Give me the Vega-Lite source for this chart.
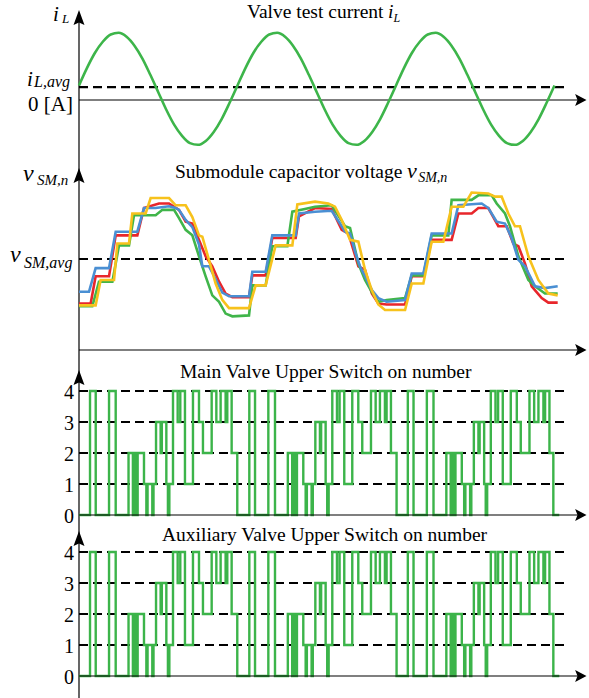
{
"$schema":"https://vega.github.io/schema/vega-lite/v6.json",
"padding":0,
"spacing":0,
"bounds":"flush",
"config":{"view":{"stroke":null},"axis":{"disable":true},"legend":{"disable":true}},
"datasets":{
"current":[
{"t":0,"i":0.26},{"t":1,"i":0.57},{"t":2,"i":0.84},{"t":3,"i":1.04},{"t":4,"i":1.17},{"t":5,"i":1.2},{"t":6,"i":1.13},{"t":7,"i":0.97},{"t":8,"i":0.74},{"t":9,"i":0.45},{"t":10,"i":0.14},{"t":11,"i":-0.17},{"t":12,"i":-0.44},{"t":13,"i":-0.64},{"t":14,"i":-0.77},{"t":15,"i":-0.8},{"t":16,"i":-0.73},{"t":17,"i":-0.57},{"t":18,"i":-0.34},{"t":19,"i":-0.05},
{"t":20,"i":0.26},{"t":21,"i":0.57},{"t":22,"i":0.84},{"t":23,"i":1.04},{"t":24,"i":1.17},{"t":25,"i":1.2},{"t":26,"i":1.13},{"t":27,"i":0.97},{"t":28,"i":0.74},{"t":29,"i":0.45},{"t":30,"i":0.14},{"t":31,"i":-0.17},{"t":32,"i":-0.44},{"t":33,"i":-0.64},{"t":34,"i":-0.77},{"t":35,"i":-0.8},{"t":36,"i":-0.73},{"t":37,"i":-0.57},{"t":38,"i":-0.34},{"t":39,"i":-0.05},
{"t":40,"i":0.26},{"t":41,"i":0.57},{"t":42,"i":0.84},{"t":43,"i":1.04},{"t":44,"i":1.17},{"t":45,"i":1.2},{"t":46,"i":1.13},{"t":47,"i":0.97},{"t":48,"i":0.74},{"t":49,"i":0.45},{"t":50,"i":0.14},{"t":51,"i":-0.17},{"t":52,"i":-0.44},{"t":53,"i":-0.64},{"t":54,"i":-0.77},{"t":55,"i":-0.8},{"t":56,"i":-0.73},{"t":57,"i":-0.57},{"t":58,"i":-0.34},{"t":59,"i":-0.05},{"t":60,"i":0.26}
],
"vsm":[
{"sm":"SM1","t":0,"v":0.51},{"sm":"SM1","t":1.47,"v":0.51},{"sm":"SM1","t":2.1,"v":0.81},{"sm":"SM1","t":3.79,"v":0.81},{"sm":"SM1","t":4.63,"v":1.26},{"sm":"SM1","t":7.36,"v":1.26},{"sm":"SM1","t":8.2,"v":1.56},{"sm":"SM1","t":10.09,"v":1.61},{"sm":"SM1","t":11.36,"v":1.61},{"sm":"SM1","t":12.62,"v":1.54},{"sm":"SM1","t":13.46,"v":1.41},{"sm":"SM1","t":14.3,"v":1.39},{"sm":"SM1","t":15.14,"v":1.21},{"sm":"SM1","t":15.98,"v":1.03},{"sm":"SM1","t":16.82,"v":0.92},{"sm":"SM1","t":17.67,"v":0.75},{"sm":"SM1","t":18.5,"v":0.62},{"sm":"SM1","t":19.35,"v":0.58},{"sm":"SM1","t":21.45,"v":0.58},{"sm":"SM1","t":21.87,"v":0.82},{"sm":"SM1","t":23.55,"v":0.82},{"sm":"SM1","t":24.39,"v":1.23},{"sm":"SM1","t":27.34,"v":1.23},{"sm":"SM1","t":27.76,"v":1.47},{"sm":"SM1","t":29.78,"v":1.56},{"sm":"SM1","t":31.88,"v":1.55},{"sm":"SM1","t":33.15,"v":1.32},{"sm":"SM1","t":34.0,"v":1.28},{"sm":"SM1","t":35.25,"v":0.92},{"sm":"SM1","t":36.09,"v":0.88},{"sm":"SM1","t":36.95,"v":0.62},{"sm":"SM1","t":37.77,"v":0.51},{"sm":"SM1","t":38.82,"v":0.5},{"sm":"SM1","t":41.14,"v":0.5},{"sm":"SM1","t":41.98,"v":0.81},{"sm":"SM1","t":43.45,"v":0.81},{"sm":"SM1","t":44.5,"v":1.21},{"sm":"SM1","t":47.02,"v":1.21},{"sm":"SM1","t":47.87,"v":1.5},{"sm":"SM1","t":49.55,"v":1.5},{"sm":"SM1","t":50.39,"v":1.56},{"sm":"SM1","t":51.65,"v":1.56},{"sm":"SM1","t":52.91,"v":1.36},{"sm":"SM1","t":53.97,"v":1.36},{"sm":"SM1","t":54.8,"v":1.17},{"sm":"SM1","t":55.44,"v":1.14},{"sm":"SM1","t":56.28,"v":0.95},{"sm":"SM1","t":57.12,"v":0.7},{"sm":"SM1","t":58.38,"v":0.57},{"sm":"SM1","t":59.22,"v":0.52},{"sm":"SM1","t":60.4,"v":0.52},
{"sm":"SM2","t":0,"v":0.48},{"sm":"SM2","t":1.68,"v":0.48},{"sm":"SM2","t":2.52,"v":0.75},{"sm":"SM2","t":4.21,"v":0.75},{"sm":"SM2","t":5.05,"v":1.15},{"sm":"SM2","t":6.31,"v":1.15},{"sm":"SM2","t":6.94,"v":1.48},{"sm":"SM2","t":9.67,"v":1.48},{"sm":"SM2","t":10.52,"v":1.54},{"sm":"SM2","t":11.99,"v":1.54},{"sm":"SM2","t":12.62,"v":1.45},{"sm":"SM2","t":13.46,"v":1.32},{"sm":"SM2","t":14.3,"v":1.26},{"sm":"SM2","t":15.14,"v":1.03},{"sm":"SM2","t":15.98,"v":0.81},{"sm":"SM2","t":16.82,"v":0.6},{"sm":"SM2","t":17.67,"v":0.53},{"sm":"SM2","t":18.5,"v":0.4},{"sm":"SM2","t":19.35,"v":0.37},{"sm":"SM2","t":21.45,"v":0.38},{"sm":"SM2","t":21.87,"v":0.71},{"sm":"SM2","t":23.55,"v":0.71},{"sm":"SM2","t":24.39,"v":1.14},{"sm":"SM2","t":26.29,"v":1.14},{"sm":"SM2","t":26.92,"v":1.52},{"sm":"SM2","t":28.5,"v":1.55},{"sm":"SM2","t":29.78,"v":1.575},{"sm":"SM2","t":31.88,"v":1.59},{"sm":"SM2","t":33.14,"v":1.42},{"sm":"SM2","t":33.56,"v":1.36},{"sm":"SM2","t":34.2,"v":1.34},{"sm":"SM2","t":35.25,"v":0.95},{"sm":"SM2","t":36.09,"v":0.77},{"sm":"SM2","t":36.93,"v":0.64},{"sm":"SM2","t":37.77,"v":0.53},{"sm":"SM2","t":38.82,"v":0.55},{"sm":"SM2","t":41.14,"v":0.57},{"sm":"SM2","t":41.98,"v":0.82},{"sm":"SM2","t":43.45,"v":0.82},{"sm":"SM2","t":44.5,"v":1.26},{"sm":"SM2","t":46.6,"v":1.26},{"sm":"SM2","t":47.02,"v":1.65},{"sm":"SM2","t":49.54,"v":1.65},{"sm":"SM2","t":50.39,"v":1.7},{"sm":"SM2","t":52.07,"v":1.7},{"sm":"SM2","t":52.7,"v":1.61},{"sm":"SM2","t":53.75,"v":1.5},{"sm":"SM2","t":54.38,"v":1.36},{"sm":"SM2","t":55.44,"v":1.03},{"sm":"SM2","t":56.7,"v":0.77},{"sm":"SM2","t":57.54,"v":0.7},{"sm":"SM2","t":58.8,"v":0.62},{"sm":"SM2","t":60.4,"v":0.62},
{"sm":"SM3","t":0,"v":0.64},{"sm":"SM3","t":1.26,"v":0.64},{"sm":"SM3","t":2.1,"v":0.9},{"sm":"SM3","t":3.79,"v":0.9},{"sm":"SM3","t":4.63,"v":1.3},{"sm":"SM3","t":7.36,"v":1.3},{"sm":"SM3","t":8.2,"v":1.56},{"sm":"SM3","t":9.67,"v":1.56},{"sm":"SM3","t":11.36,"v":1.58},{"sm":"SM3","t":12.2,"v":1.56},{"sm":"SM3","t":12.62,"v":1.54},{"sm":"SM3","t":13.46,"v":1.43},{"sm":"SM3","t":14.3,"v":1.35},{"sm":"SM3","t":15.14,"v":1.16},{"sm":"SM3","t":15.56,"v":0.92},{"sm":"SM3","t":16.4,"v":0.92},{"sm":"SM3","t":17.24,"v":0.78},{"sm":"SM3","t":18.08,"v":0.63},{"sm":"SM3","t":18.93,"v":0.59},{"sm":"SM3","t":21.45,"v":0.59},{"sm":"SM3","t":21.87,"v":0.86},{"sm":"SM3","t":23.55,"v":0.86},{"sm":"SM3","t":24.39,"v":1.26},{"sm":"SM3","t":27.34,"v":1.26},{"sm":"SM3","t":27.76,"v":1.5},{"sm":"SM3","t":29.78,"v":1.52},{"sm":"SM3","t":31.88,"v":1.53},{"sm":"SM3","t":32.93,"v":1.39},{"sm":"SM3","t":33.56,"v":1.3},{"sm":"SM3","t":34.2,"v":1.28},{"sm":"SM3","t":34.83,"v":1.08},{"sm":"SM3","t":35.46,"v":0.92},{"sm":"SM3","t":36.09,"v":0.81},{"sm":"SM3","t":36.95,"v":0.66},{"sm":"SM3","t":37.77,"v":0.57},{"sm":"SM3","t":38.82,"v":0.53},{"sm":"SM3","t":41.14,"v":0.55},{"sm":"SM3","t":41.98,"v":0.84},{"sm":"SM3","t":43.45,"v":0.84},{"sm":"SM3","t":44.5,"v":1.28},{"sm":"SM3","t":47.02,"v":1.28},{"sm":"SM3","t":47.87,"v":1.59},{"sm":"SM3","t":50.81,"v":1.61},{"sm":"SM3","t":51.65,"v":1.56},{"sm":"SM3","t":52.7,"v":1.41},{"sm":"SM3","t":53.75,"v":1.39},{"sm":"SM3","t":54.59,"v":1.23},{"sm":"SM3","t":55.44,"v":0.99},{"sm":"SM3","t":56.28,"v":0.92},{"sm":"SM3","t":57.54,"v":0.7},{"sm":"SM3","t":58.8,"v":0.68},{"sm":"SM3","t":60.4,"v":0.7},
{"sm":"SM4","t":0,"v":0.49},{"sm":"SM4","t":2.1,"v":0.49},{"sm":"SM4","t":2.73,"v":0.77},{"sm":"SM4","t":4.42,"v":0.77},{"sm":"SM4","t":4.84,"v":1.17},{"sm":"SM4","t":6.31,"v":1.17},{"sm":"SM4","t":6.73,"v":1.5},{"sm":"SM4","t":8.41,"v":1.5},{"sm":"SM4","t":9.04,"v":1.67},{"sm":"SM4","t":11.36,"v":1.67},{"sm":"SM4","t":12.2,"v":1.59},{"sm":"SM4","t":13.46,"v":1.59},{"sm":"SM4","t":14.3,"v":1.46},{"sm":"SM4","t":15.14,"v":1.26},{"sm":"SM4","t":15.56,"v":1.245},{"sm":"SM4","t":16.4,"v":0.99},{"sm":"SM4","t":17.24,"v":0.73},{"sm":"SM4","t":18.08,"v":0.55},{"sm":"SM4","t":18.93,"v":0.46},{"sm":"SM4","t":21.45,"v":0.46},{"sm":"SM4","t":22.29,"v":0.71},{"sm":"SM4","t":23.55,"v":0.71},{"sm":"SM4","t":24.81,"v":1.15},{"sm":"SM4","t":26.92,"v":1.15},{"sm":"SM4","t":27.55,"v":1.6},{"sm":"SM4","t":29.78,"v":1.63},{"sm":"SM4","t":31.46,"v":1.61},{"sm":"SM4","t":32.3,"v":1.575},{"sm":"SM4","t":33.14,"v":1.43},{"sm":"SM4","t":34.2,"v":1.21},{"sm":"SM4","t":35.25,"v":1.19},{"sm":"SM4","t":36.09,"v":0.88},{"sm":"SM4","t":36.93,"v":0.66},{"sm":"SM4","t":37.77,"v":0.5},{"sm":"SM4","t":38.61,"v":0.44},{"sm":"SM4","t":41.14,"v":0.44},{"sm":"SM4","t":41.98,"v":0.73},{"sm":"SM4","t":43.45,"v":0.73},{"sm":"SM4","t":44.5,"v":1.19},{"sm":"SM4","t":45.97,"v":1.19},{"sm":"SM4","t":47.02,"v":1.575},{"sm":"SM4","t":48.5,"v":1.575},{"sm":"SM4","t":49.54,"v":1.73},{"sm":"SM4","t":51.65,"v":1.72},{"sm":"SM4","t":52.49,"v":1.685},{"sm":"SM4","t":53.33,"v":1.685},{"sm":"SM4","t":54.17,"v":1.5},{"sm":"SM4","t":55.01,"v":1.36},{"sm":"SM4","t":55.64,"v":1.36},{"sm":"SM4","t":56.7,"v":1.03},{"sm":"SM4","t":57.96,"v":0.77},{"sm":"SM4","t":59.22,"v":0.62},{"sm":"SM4","t":60.4,"v":0.6}
],
"sw":[
{"t":0,"n":0},{"t":1.39,"n":4},{"t":2.11,"n":0},{"t":3.79,"n":4},{"t":4.63,"n":0},{"t":6.25,"n":2},{"t":6.8,"n":0},{"t":6.95,"n":2},{"t":7.25,"n":0},{"t":7.4,"n":2},{"t":8.2,"n":1},{"t":8.5,"n":0},{"t":8.65,"n":1},{"t":9.25,"n":0},{"t":9.4,"n":1},{"t":9.72,"n":3},{"t":10.3,"n":2},{"t":10.45,"n":3},{"t":11.02,"n":1},{"t":11.22,"n":0},{"t":11.4,"n":1},{"t":11.86,"n":4},{"t":12.45,"n":3},{"t":12.78,"n":4},{"t":13.37,"n":1},{"t":14.38,"n":4},{"t":15.14,"n":3},{"t":15.64,"n":2},{"t":16.74,"n":4},{"t":17.33,"n":3},{"t":17.87,"n":4},{"t":18.5,"n":3},{"t":18.71,"n":4},{"t":19.26,"n":2},{"t":19.97,"n":0},
{"t":21.49,"n":4},{"t":22.21,"n":0},{"t":23.89,"n":4},{"t":24.73,"n":0},{"t":26.35,"n":2},{"t":26.9,"n":0},{"t":27.05,"n":2},{"t":27.35,"n":0},{"t":27.5,"n":2},{"t":28.3,"n":1},{"t":28.6,"n":0},{"t":28.75,"n":1},{"t":29.35,"n":0},{"t":29.5,"n":1},{"t":29.82,"n":3},{"t":30.4,"n":2},{"t":30.55,"n":3},{"t":31.12,"n":1},{"t":31.32,"n":0},{"t":31.5,"n":1},{"t":31.96,"n":4},{"t":32.55,"n":3},{"t":32.88,"n":4},{"t":33.47,"n":1},{"t":34.48,"n":4},{"t":35.24,"n":3},{"t":35.74,"n":2},{"t":36.84,"n":4},{"t":37.43,"n":3},{"t":37.97,"n":4},{"t":38.6,"n":3},{"t":38.81,"n":4},{"t":39.36,"n":2},{"t":40.07,"n":0},
{"t":41.49,"n":4},{"t":42.21,"n":0},{"t":43.89,"n":4},{"t":44.73,"n":0},{"t":46.35,"n":2},{"t":46.9,"n":0},{"t":47.05,"n":2},{"t":47.35,"n":0},{"t":47.5,"n":2},{"t":48.3,"n":1},{"t":48.6,"n":0},{"t":48.75,"n":1},{"t":49.35,"n":0},{"t":49.5,"n":1},{"t":49.82,"n":3},{"t":50.4,"n":2},{"t":50.55,"n":3},{"t":51.12,"n":1},{"t":51.32,"n":0},{"t":51.5,"n":1},{"t":51.96,"n":4},{"t":52.55,"n":3},{"t":52.88,"n":4},{"t":53.47,"n":1},{"t":54.48,"n":4},{"t":55.24,"n":3},{"t":55.74,"n":2},{"t":56.84,"n":4},{"t":57.43,"n":3},{"t":57.97,"n":4},{"t":58.6,"n":3},{"t":58.81,"n":4},{"t":59.36,"n":2},{"t":59.85,"n":0},{"t":60.6,"n":0}
]
},
"vconcat":[
{"width":589,"height":162,
"layer":[
{"data":{"values":[{}]},"mark":{"type":"rule","color":"#000","strokeWidth":1.2},"encoding":{"x":{"datum":0,"scale":{"domain":[-9.968,64.35],"nice":false,"zero":false},"axis":null},"y":{"datum":1.47,"scale":{"domain":[-1.107,1.786],"nice":false,"zero":false},"axis":null},"y2":{"datum":-1.107}}},
{"data":{"values":[{}]},"mark":{"type":"rule","color":"#000","strokeWidth":1.2},"encoding":{"x":{"datum":0,"scale":{"domain":[-9.968,64.35],"nice":false,"zero":false},"axis":null},"x2":{"datum":63.3},"y":{"datum":0,"scale":{"domain":[-1.107,1.786],"nice":false,"zero":false},"axis":null}}},
{"data":{"values":[{}]},"mark":{"type":"rule","color":"#000","strokeWidth":2.2,"strokeDash":[9,5]},"encoding":{"x":{"datum":0,"scale":{"domain":[-9.968,64.35],"nice":false,"zero":false},"axis":null},"x2":{"datum":61.45},"y":{"datum":0.23,"scale":{"domain":[-1.107,1.786],"nice":false,"zero":false},"axis":null}}},
{"data":{"name":"current"},"mark":{"type":"line","color":"#3db54a","strokeWidth":2.6,"interpolate":"monotone"},"encoding":{"x":{"field":"t","type":"quantitative","scale":{"domain":[-9.968,64.35],"nice":false,"zero":false},"axis":null},"y":{"field":"i","type":"quantitative","scale":{"domain":[-1.107,1.786],"nice":false,"zero":false},"axis":null}}},
{"data":{"values":[{}]},"mark":{"type":"point","shape":"M0,-1L0.73,1L0,0.65L-0.73,1Z","size":225,"filled":true,"color":"#000","opacity":1,"strokeWidth":0},"encoding":{"x":{"datum":0,"scale":{"domain":[-9.968,64.35],"nice":false,"zero":false},"axis":null},"y":{"datum":1.473,"scale":{"domain":[-1.107,1.786],"nice":false,"zero":false},"axis":null}}},
{"data":{"values":[{}]},"mark":{"type":"point","shape":"M1,0L-0.9,1L-0.5,0L-0.9,-1Z","size":144,"filled":true,"color":"#000","opacity":1,"strokeWidth":0},"encoding":{"x":{"datum":63.28,"scale":{"domain":[-9.968,64.35],"nice":false,"zero":false},"axis":null},"y":{"datum":0,"scale":{"domain":[-1.107,1.786],"nice":false,"zero":false},"axis":null}}},
{"data":{"values":[{}]},"mark":{"type":"text","text":"i","font":"Liberation Serif","fontStyle":"italic","fontSize":21,"align":"left","baseline":"alphabetic","color":"#000"},"encoding":{"x":{"datum":-3.28,"scale":{"domain":[-9.968,64.35],"nice":false,"zero":false},"axis":null},"y":{"datum":1.411,"scale":{"domain":[-1.107,1.786],"nice":false,"zero":false},"axis":null}}},
{"data":{"values":[{}]},"mark":{"type":"text","text":"L","font":"Liberation Serif","fontStyle":"italic","fontSize":13,"align":"left","baseline":"alphabetic","color":"#000"},"encoding":{"x":{"datum":-2.145,"scale":{"domain":[-9.968,64.35],"nice":false,"zero":false},"axis":null},"y":{"datum":1.375,"scale":{"domain":[-1.107,1.786],"nice":false,"zero":false},"axis":null}}},
{"data":{"values":[{}]},"mark":{"type":"text","text":"i","font":"Liberation Serif","fontStyle":"italic","fontSize":21,"align":"left","baseline":"alphabetic","color":"#000"},"encoding":{"x":{"datum":-6.56,"scale":{"domain":[-9.968,64.35],"nice":false,"zero":false},"axis":null},"y":{"datum":0.25,"scale":{"domain":[-1.107,1.786],"nice":false,"zero":false},"axis":null}}},
{"data":{"values":[{}]},"mark":{"type":"text","text":"L,avg","font":"Liberation Serif","fontStyle":"italic","fontSize":16,"align":"left","baseline":"alphabetic","color":"#000"},"encoding":{"x":{"datum":-5.68,"scale":{"domain":[-9.968,64.35],"nice":false,"zero":false},"axis":null},"y":{"datum":0.23,"scale":{"domain":[-1.107,1.786],"nice":false,"zero":false},"axis":null}}},
{"data":{"values":[{}]},"mark":{"type":"text","text":"0 [A]","font":"Liberation Serif","fontSize":21,"align":"right","baseline":"alphabetic","color":"#000"},"encoding":{"x":{"datum":-0.757,"scale":{"domain":[-9.968,64.35],"nice":false,"zero":false},"axis":null},"y":{"datum":-0.2,"scale":{"domain":[-1.107,1.786],"nice":false,"zero":false},"axis":null}}},
{"data":{"values":[{}]},"mark":{"type":"text","text":"Valve test current","font":"Liberation Serif","fontSize":19.5,"align":"left","baseline":"alphabetic","color":"#000"},"encoding":{"x":{"datum":21.2,"scale":{"domain":[-9.968,64.35],"nice":false,"zero":false},"axis":null},"y":{"datum":1.464,"scale":{"domain":[-1.107,1.786],"nice":false,"zero":false},"axis":null}}},
{"data":{"values":[{}]},"mark":{"type":"text","text":"i","font":"Liberation Serif","fontStyle":"italic","fontSize":19.5,"align":"left","baseline":"alphabetic","color":"#000"},"encoding":{"x":{"datum":38.99,"scale":{"domain":[-9.968,64.35],"nice":false,"zero":false},"axis":null},"y":{"datum":1.464,"scale":{"domain":[-1.107,1.786],"nice":false,"zero":false},"axis":null}}},
{"data":{"values":[{}]},"mark":{"type":"text","text":"L","font":"Liberation Serif","fontStyle":"italic","fontSize":12,"align":"left","baseline":"alphabetic","color":"#000"},"encoding":{"x":{"datum":39.68,"scale":{"domain":[-9.968,64.35],"nice":false,"zero":false},"axis":null},"y":{"datum":1.393,"scale":{"domain":[-1.107,1.786],"nice":false,"zero":false},"axis":null}}}
]},
{"width":589,"height":200,
"layer":[
{"data":{"values":[{}]},"mark":{"type":"rule","color":"#000","strokeWidth":1.2},"encoding":{"x":{"datum":0,"scale":{"domain":[-9.968,64.35],"nice":false,"zero":false},"axis":null},"y":{"datum":2.066,"scale":{"domain":[-0.132,2.066],"nice":false,"zero":false},"axis":null},"y2":{"datum":-0.132}}},
{"data":{"values":[{}]},"mark":{"type":"rule","color":"#000","strokeWidth":1.2},"encoding":{"x":{"datum":0,"scale":{"domain":[-9.968,64.35],"nice":false,"zero":false},"axis":null},"x2":{"datum":63.3},"y":{"datum":0,"scale":{"domain":[-0.132,2.066],"nice":false,"zero":false},"axis":null}}},
{"data":{"values":[{}]},"mark":{"type":"rule","color":"#000","strokeWidth":2.2,"strokeDash":[9,5]},"encoding":{"x":{"datum":0,"scale":{"domain":[-9.968,64.35],"nice":false,"zero":false},"axis":null},"x2":{"datum":61.45},"y":{"datum":1.0,"scale":{"domain":[-0.132,2.066],"nice":false,"zero":false},"axis":null}}},
{"data":{"name":"vsm"},"mark":{"type":"line","strokeWidth":2.6,"interpolate":"linear"},"encoding":{"x":{"field":"t","type":"quantitative","scale":{"domain":[-9.968,64.35],"nice":false,"zero":false},"axis":null},"y":{"field":"v","type":"quantitative","scale":{"domain":[-0.132,2.066],"nice":false,"zero":false},"axis":null},"color":{"field":"sm","type":"nominal","scale":{"domain":["SM1","SM2","SM3","SM4"],"range":["#e8262b","#40b54a","#4a8fd3","#f7c21c"]},"legend":null}}},
{"data":{"values":[{}]},"mark":{"type":"point","shape":"M0,-1L0.73,1L0,0.65L-0.73,1Z","size":225,"filled":true,"color":"#000","opacity":1,"strokeWidth":0},"encoding":{"x":{"datum":0,"scale":{"domain":[-9.968,64.35],"nice":false,"zero":false},"axis":null},"y":{"datum":1.918,"scale":{"domain":[-0.132,2.066],"nice":false,"zero":false},"axis":null}}},
{"data":{"values":[{}]},"mark":{"type":"point","shape":"M1,0L-0.9,1L-0.5,0L-0.9,-1Z","size":144,"filled":true,"color":"#000","opacity":1,"strokeWidth":0},"encoding":{"x":{"datum":63.28,"scale":{"domain":[-9.968,64.35],"nice":false,"zero":false},"axis":null},"y":{"datum":0,"scale":{"domain":[-0.132,2.066],"nice":false,"zero":false},"axis":null}}},
{"data":{"values":[{}]},"mark":{"type":"text","text":"v","font":"Liberation Serif","fontStyle":"italic","fontSize":24,"align":"left","baseline":"alphabetic","color":"#000"},"encoding":{"x":{"datum":-7.07,"scale":{"domain":[-9.968,64.35],"nice":false,"zero":false},"axis":null},"y":{"datum":1.857,"scale":{"domain":[-0.132,2.066],"nice":false,"zero":false},"axis":null}}},
{"data":{"values":[{}]},"mark":{"type":"text","text":"SM,n","font":"Liberation Serif","fontStyle":"italic","fontSize":15,"align":"left","baseline":"alphabetic","color":"#000"},"encoding":{"x":{"datum":-5.3,"scale":{"domain":[-9.968,64.35],"nice":false,"zero":false},"axis":null},"y":{"datum":1.813,"scale":{"domain":[-0.132,2.066],"nice":false,"zero":false},"axis":null}}},
{"data":{"values":[{}]},"mark":{"type":"text","text":"v","font":"Liberation Serif","fontStyle":"italic","fontSize":24,"align":"left","baseline":"alphabetic","color":"#000"},"encoding":{"x":{"datum":-8.71,"scale":{"domain":[-9.968,64.35],"nice":false,"zero":false},"axis":null},"y":{"datum":0.967,"scale":{"domain":[-0.132,2.066],"nice":false,"zero":false},"axis":null}}},
{"data":{"values":[{}]},"mark":{"type":"text","text":"SM,avg","font":"Liberation Serif","fontStyle":"italic","fontSize":16,"align":"left","baseline":"alphabetic","color":"#000"},"encoding":{"x":{"datum":-6.94,"scale":{"domain":[-9.968,64.35],"nice":false,"zero":false},"axis":null},"y":{"datum":0.901,"scale":{"domain":[-0.132,2.066],"nice":false,"zero":false},"axis":null}}},
{"data":{"values":[{}]},"mark":{"type":"text","text":"Submodule capacitor voltage","font":"Liberation Serif","fontSize":19.5,"align":"left","baseline":"alphabetic","color":"#000"},"encoding":{"x":{"datum":12.11,"scale":{"domain":[-9.968,64.35],"nice":false,"zero":false},"axis":null},"y":{"datum":1.89,"scale":{"domain":[-0.132,2.066],"nice":false,"zero":false},"axis":null}}},
{"data":{"values":[{}]},"mark":{"type":"text","text":"v","font":"Liberation Serif","fontStyle":"italic","fontSize":22,"align":"left","baseline":"alphabetic","color":"#000"},"encoding":{"x":{"datum":41.4,"scale":{"domain":[-9.968,64.35],"nice":false,"zero":false},"axis":null},"y":{"datum":1.89,"scale":{"domain":[-0.132,2.066],"nice":false,"zero":false},"axis":null}}},
{"data":{"values":[{}]},"mark":{"type":"text","text":"SM,n","font":"Liberation Serif","fontStyle":"italic","fontSize":14,"align":"left","baseline":"alphabetic","color":"#000"},"encoding":{"x":{"datum":42.8,"scale":{"domain":[-9.968,64.35],"nice":false,"zero":false},"axis":null},"y":{"datum":1.846,"scale":{"domain":[-0.132,2.066],"nice":false,"zero":false},"axis":null}}}
]},
{"width":589,"height":163,
"layer":[
{"data":{"values":[{}]},"mark":{"type":"rule","color":"#000","strokeWidth":1.2},"encoding":{"x":{"datum":0,"scale":{"domain":[-9.968,64.35],"nice":false,"zero":false},"axis":null},"y":{"datum":4.935,"scale":{"domain":[-0.323,4.935],"nice":false,"zero":false},"axis":null},"y2":{"datum":-0.323}}},
{"data":{"values":[{"lvl":1},{"lvl":2},{"lvl":3},{"lvl":4}]},"mark":{"type":"rule","color":"#000","strokeWidth":2.2,"strokeDash":[9,5]},"encoding":{"x":{"datum":0,"scale":{"domain":[-9.968,64.35],"nice":false,"zero":false},"axis":null},"x2":{"datum":61.45},"y":{"field":"lvl","type":"quantitative","scale":{"domain":[-0.323,4.935],"nice":false,"zero":false},"axis":null}}},
{"data":{"name":"sw"},"mark":{"type":"line","color":"#3cb44a","strokeWidth":2.4,"interpolate":"step-after"},"encoding":{"x":{"field":"t","type":"quantitative","scale":{"domain":[-9.968,64.35],"nice":false,"zero":false},"axis":null},"y":{"field":"n","type":"quantitative","scale":{"domain":[-0.323,4.935],"nice":false,"zero":false},"axis":null}}},
{"data":{"values":[{}]},"mark":{"type":"rule","color":"#000","strokeWidth":1.2},"encoding":{"x":{"datum":0,"scale":{"domain":[-9.968,64.35],"nice":false,"zero":false},"axis":null},"x2":{"datum":63.3},"y":{"datum":0,"scale":{"domain":[-0.323,4.935],"nice":false,"zero":false},"axis":null}}},
{"data":{"values":[{}]},"mark":{"type":"point","shape":"M0,-1L0.73,1L0,0.65L-0.73,1Z","size":225,"filled":true,"color":"#000","opacity":1,"strokeWidth":0},"encoding":{"x":{"datum":0,"scale":{"domain":[-9.968,64.35],"nice":false,"zero":false},"axis":null},"y":{"datum":4.435,"scale":{"domain":[-0.323,4.935],"nice":false,"zero":false},"axis":null}}},
{"data":{"values":[{}]},"mark":{"type":"point","shape":"M1,0L-0.9,1L-0.5,0L-0.9,-1Z","size":144,"filled":true,"color":"#000","opacity":1,"strokeWidth":0},"encoding":{"x":{"datum":63.28,"scale":{"domain":[-9.968,64.35],"nice":false,"zero":false},"axis":null},"y":{"datum":0,"scale":{"domain":[-0.323,4.935],"nice":false,"zero":false},"axis":null}}},
{"data":{"values":[{"lvl":0},{"lvl":1},{"lvl":2},{"lvl":3},{"lvl":4}]},"mark":{"type":"text","font":"Liberation Serif","fontSize":20,"align":"right","baseline":"middle","dy":2,"color":"#000"},"encoding":{"x":{"datum":-0.631,"scale":{"domain":[-9.968,64.35],"nice":false,"zero":false},"axis":null},"y":{"field":"lvl","type":"quantitative","scale":{"domain":[-0.323,4.935],"nice":false,"zero":false},"axis":null},"text":{"field":"lvl","type":"quantitative"}}},
{"data":{"values":[{}]},"mark":{"type":"text","text":"Main Valve Upper Switch on number","font":"Liberation Serif","fontSize":19.5,"align":"left","baseline":"alphabetic","color":"#000"},"encoding":{"x":{"datum":12.74,"scale":{"domain":[-9.968,64.35],"nice":false,"zero":false},"axis":null},"y":{"datum":4.419,"scale":{"domain":[-0.323,4.935],"nice":false,"zero":false},"axis":null}}}
]},
{"width":589,"height":173,
"layer":[
{"data":{"values":[{}]},"mark":{"type":"rule","color":"#000","strokeWidth":1.2},"encoding":{"x":{"datum":0,"scale":{"domain":[-9.968,64.35],"nice":false,"zero":false},"axis":null},"y":{"datum":4.871,"scale":{"domain":[-0.71,4.871],"nice":false,"zero":false},"axis":null},"y2":{"datum":-0.71}}},
{"data":{"values":[{"lvl":1},{"lvl":2},{"lvl":3},{"lvl":4}]},"mark":{"type":"rule","color":"#000","strokeWidth":2.2,"strokeDash":[9,5]},"encoding":{"x":{"datum":0,"scale":{"domain":[-9.968,64.35],"nice":false,"zero":false},"axis":null},"x2":{"datum":61.45},"y":{"field":"lvl","type":"quantitative","scale":{"domain":[-0.71,4.871],"nice":false,"zero":false},"axis":null}}},
{"data":{"name":"sw"},"mark":{"type":"line","color":"#3cb44a","strokeWidth":2.4,"interpolate":"step-after"},"encoding":{"x":{"field":"t","type":"quantitative","scale":{"domain":[-9.968,64.35],"nice":false,"zero":false},"axis":null},"y":{"field":"n","type":"quantitative","scale":{"domain":[-0.71,4.871],"nice":false,"zero":false},"axis":null}}},
{"data":{"values":[{}]},"mark":{"type":"rule","color":"#000","strokeWidth":1.2},"encoding":{"x":{"datum":0,"scale":{"domain":[-9.968,64.35],"nice":false,"zero":false},"axis":null},"x2":{"datum":63.3},"y":{"datum":0,"scale":{"domain":[-0.71,4.871],"nice":false,"zero":false},"axis":null}}},
{"data":{"values":[{}]},"mark":{"type":"point","shape":"M0,-1L0.73,1L0,0.65L-0.73,1Z","size":225,"filled":true,"color":"#000","opacity":1,"strokeWidth":0},"encoding":{"x":{"datum":0,"scale":{"domain":[-9.968,64.35],"nice":false,"zero":false},"axis":null},"y":{"datum":4.435,"scale":{"domain":[-0.71,4.871],"nice":false,"zero":false},"axis":null}}},
{"data":{"values":[{}]},"mark":{"type":"point","shape":"M1,0L-0.9,1L-0.5,0L-0.9,-1Z","size":144,"filled":true,"color":"#000","opacity":1,"strokeWidth":0},"encoding":{"x":{"datum":63.28,"scale":{"domain":[-9.968,64.35],"nice":false,"zero":false},"axis":null},"y":{"datum":0,"scale":{"domain":[-0.71,4.871],"nice":false,"zero":false},"axis":null}}},
{"data":{"values":[{"lvl":0},{"lvl":1},{"lvl":2},{"lvl":3},{"lvl":4}]},"mark":{"type":"text","font":"Liberation Serif","fontSize":20,"align":"right","baseline":"middle","dy":2,"color":"#000"},"encoding":{"x":{"datum":-0.631,"scale":{"domain":[-9.968,64.35],"nice":false,"zero":false},"axis":null},"y":{"field":"lvl","type":"quantitative","scale":{"domain":[-0.71,4.871],"nice":false,"zero":false},"axis":null},"text":{"field":"lvl","type":"quantitative"}}},
{"data":{"values":[{}]},"mark":{"type":"text","text":"Auxiliary Valve Upper Switch on number","font":"Liberation Serif","fontSize":19.5,"align":"left","baseline":"alphabetic","color":"#000"},"encoding":{"x":{"datum":10.47,"scale":{"domain":[-9.968,64.35],"nice":false,"zero":false},"axis":null},"y":{"datum":4.355,"scale":{"domain":[-0.71,4.871],"nice":false,"zero":false},"axis":null}}}
]}
]
}
